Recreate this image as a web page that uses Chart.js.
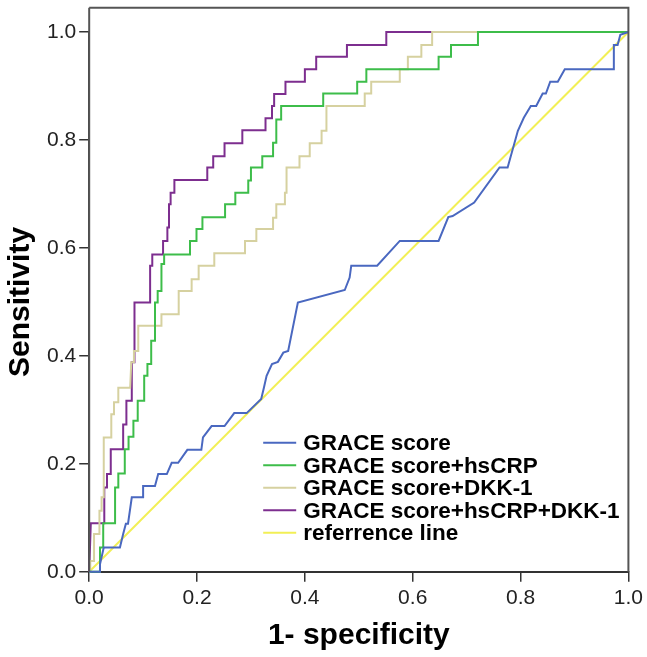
<!DOCTYPE html>
<html>
<head>
<meta charset="utf-8">
<script src="https://cdn.jsdelivr.net/npm/chart.js@4/dist/chart.umd.min.js"></script>
<style>
  body { margin: 0; background: #fff; }
  #wrap { width: 647px; height: 657px; }
</style>
</head>
<body>
<div id="wrap"><canvas id="rocChart" width="647" height="657"></canvas></div>
<script>
// ROC curves: 1 - specificity (x) vs sensitivity (y), corner points
const seriesLabels = ['GRACE score', 'GRACE score+hsCRP', 'GRACE score+DKK-1', 'GRACE score+hsCRP+DKK-1', 'referrence line'];
const axisTicks = [0, 0.2, 0.4, 0.6, 0.8, 1.0];

const graceX = [0, 0.02, 0.02, 0.027, 0.057, 0.063, 0.068, 0.072, 0.079, 0.100, 0.100, 0.122, 0.128, 0.144, 0.153, 0.165,
  0.182, 0.208, 0.211, 0.227, 0.251, 0.269, 0.292, 0.319, 0.324, 0.329, 0.339, 0.350, 0.360, 0.369, 0.387,
  0.474, 0.483, 0.486, 0.534, 0.576, 0.648, 0.666, 0.674, 0.714, 0.761, 0.776, 0.795, 0.806, 0.819, 0.829,
  0.841, 0.847, 0.855, 0.869, 0.882, 0.973, 0.973, 0.980, 0.985, 1.0];
const graceY = [0, 0, 0.014, 0.045, 0.045, 0.07, 0.089, 0.089, 0.138, 0.138, 0.159, 0.159, 0.181, 0.181, 0.202, 0.202,
  0.226, 0.226, 0.249, 0.270, 0.270, 0.294, 0.294, 0.320, 0.341, 0.363, 0.385, 0.389, 0.406, 0.409, 0.499,
  0.522, 0.545, 0.567, 0.567, 0.613, 0.613, 0.657, 0.659, 0.684, 0.749, 0.749, 0.817, 0.841, 0.863, 0.863,
  0.886, 0.886, 0.908, 0.908, 0.931, 0.931, 0.976, 0.976, 0.995, 1.0];

const crpX = [0, 0.02, 0.02, 0.026, 0.026, 0.048, 0.048, 0.054, 0.054, 0.066, 0.066, 0.073, 0.073, 0.082, 0.082, 0.09, 0.09,
  0.102, 0.102, 0.108, 0.108, 0.115, 0.115, 0.122, 0.122, 0.127, 0.127, 0.134, 0.134, 0.139, 0.139, 0.187, 0.187,
  0.199, 0.199, 0.210, 0.210, 0.252, 0.252, 0.271, 0.271, 0.295, 0.295, 0.300, 0.300, 0.321, 0.321, 0.341, 0.341,
  0.347, 0.347, 0.356, 0.356, 0.434, 0.434, 0.497, 0.497, 0.514, 0.514, 0.648, 0.648, 0.671, 0.671, 0.721, 0.721, 1.0];
const crpY = [0, 0, 0.045, 0.045, 0.09, 0.09, 0.156, 0.156, 0.182, 0.182, 0.227, 0.227, 0.25, 0.25, 0.28, 0.28, 0.317,
  0.317, 0.363, 0.363, 0.385, 0.385, 0.428, 0.428, 0.499, 0.499, 0.520, 0.520, 0.570, 0.570, 0.588, 0.588, 0.613,
  0.613, 0.635, 0.635, 0.657, 0.657, 0.681, 0.681, 0.702, 0.702, 0.725, 0.725, 0.749, 0.749, 0.770, 0.770, 0.795,
  0.795, 0.838, 0.838, 0.863, 0.863, 0.886, 0.886, 0.908, 0.908, 0.931, 0.931, 0.954, 0.954, 0.976, 0.976, 1.0, 1.0];

const dkkX = [0, 0.002, 0.002, 0.009, 0.009, 0.019, 0.019, 0.023, 0.023, 0.027, 0.027, 0.041, 0.041, 0.046, 0.046, 0.054,
  0.054, 0.076, 0.078, 0.083, 0.083, 0.091, 0.091, 0.134, 0.134, 0.166, 0.166, 0.190, 0.190, 0.203, 0.203, 0.232,
  0.232, 0.289, 0.289, 0.310, 0.310, 0.341, 0.341, 0.347, 0.347, 0.363, 0.363, 0.366, 0.366, 0.390, 0.390, 0.409,
  0.409, 0.431, 0.431, 0.440, 0.440, 0.511, 0.511, 0.523, 0.523, 0.576, 0.576, 0.591, 0.591, 0.616, 0.616, 0.636, 0.636, 1.0];
const dkkY = [0, 0, 0.02, 0.02, 0.07, 0.07, 0.113, 0.113, 0.138, 0.138, 0.249, 0.249, 0.292, 0.292, 0.314, 0.314,
  0.341, 0.341, 0.388, 0.388, 0.409, 0.409, 0.456, 0.456, 0.477, 0.477, 0.520, 0.520, 0.542, 0.542, 0.567, 0.567,
  0.590, 0.590, 0.613, 0.613, 0.635, 0.635, 0.656, 0.656, 0.681, 0.681, 0.702, 0.702, 0.749, 0.749, 0.770, 0.770,
  0.794, 0.794, 0.817, 0.817, 0.863, 0.863, 0.886, 0.886, 0.908, 0.908, 0.931, 0.931, 0.954, 0.954, 0.976, 0.976, 1.0, 1.0];

const allX = [0, 0.003, 0.028, 0.028, 0.033, 0.033, 0.04, 0.04, 0.063, 0.063, 0.069, 0.069, 0.079, 0.079, 0.084, 0.084,
  0.113, 0.113, 0.117, 0.117, 0.137, 0.137, 0.145, 0.145, 0.148, 0.148, 0.151, 0.151, 0.158, 0.158, 0.219, 0.219,
  0.230, 0.230, 0.251, 0.251, 0.284, 0.284, 0.327, 0.327, 0.339, 0.339, 0.343, 0.343, 0.364, 0.364, 0.400, 0.400,
  0.421, 0.421, 0.478, 0.478, 0.551, 0.551, 1.0];
const allY = [0, 0.09, 0.09, 0.156, 0.156, 0.181, 0.181, 0.227, 0.227, 0.273, 0.273, 0.317, 0.317, 0.388, 0.388, 0.499,
  0.499, 0.567, 0.567, 0.588, 0.588, 0.613, 0.613, 0.638, 0.638, 0.681, 0.681, 0.702, 0.702, 0.726, 0.726, 0.749,
  0.749, 0.770, 0.770, 0.794, 0.794, 0.818, 0.818, 0.840, 0.840, 0.863, 0.863, 0.885, 0.885, 0.908, 0.908, 0.931,
  0.931, 0.954, 0.954, 0.976, 0.976, 1.0, 1.0];

const refX = [0, 1];
const refY = [0, 1];

const colors = ['#4a68c0', '#3dbd4a', '#d6d1a0', '#7d2e8f', '#f2ef55'];

function toPoints(xs, ys) {
  return xs.map((x, i) => ({ x: x, y: ys[i] }));
}

// legend drawn inside the plot, lower right (like the SPSS output)
const insideLegend = {
  id: 'insideLegend',
  afterDatasetsDraw(chart) {
    const ctx = chart.ctx;
    const area = chart.chartArea;
    ctx.save();
    ctx.font = 'bold 22.5px "Liberation Sans", Arial, sans-serif';
    ctx.textBaseline = 'middle';
    ctx.fillStyle = '#000';
    chart.data.datasets.forEach((ds, i) => {
      const y = area.bottom - 129 + i * 22.5;
      ctx.strokeStyle = ds.borderColor;
      ctx.lineWidth = 2;
      ctx.beginPath();
      ctx.moveTo(area.left + 174, y);
      ctx.lineTo(area.left + 207, y);
      ctx.stroke();
      ctx.fillText(ds.label, area.left + 214, y + 1);
    });
    ctx.restore();
  }
};

// box round the plot, a bit above 1.0
const frameBox = {
  id: 'frameBox',
  afterDraw(chart) {
    const ctx = chart.ctx;
    const area = chart.chartArea;
    const top = chart.scales.y.getPixelForValue(1.045);
    ctx.save();
    ctx.strokeStyle = '#555';
    ctx.lineWidth = 2;
    ctx.beginPath();
    ctx.moveTo(area.left, top);
    ctx.lineTo(area.right, top);
    ctx.lineTo(area.right, area.bottom);
    ctx.moveTo(area.left, area.bottom);
    ctx.lineTo(area.left, top);
    ctx.stroke();
    ctx.restore();
  }
};

document.addEventListener('DOMContentLoaded', function () {
  const ctx = document.getElementById('rocChart').getContext('2d');
  const xsList = [graceX, crpX, dkkX, allX, refX];
  const ysList = [graceY, crpY, dkkY, allY, refY];
  new Chart(ctx, {
    type: 'scatter',
    data: {
      datasets: seriesLabels.map((label, i) => ({
        label: label,
        data: toPoints(xsList[i], ysList[i]),
        showLine: true,
        borderColor: colors[i],
        backgroundColor: colors[i],
        borderWidth: 2,
        pointRadius: 0,
        tension: 0,
        clip: 4
      }))
    },
    options: {
      responsive: false,
      animation: false,
      layout: { padding: { top: 32, right: 5, left: 0, bottom: 0 } },
      plugins: {
        legend: { display: false },
        tooltip: { enabled: false }
      },
      scales: {
        x: {
          type: 'linear',
          min: 0,
          max: 1,
          afterBuildTicks: function (scale) {
            scale.ticks = axisTicks.map(v => ({ value: v }));
          },
          grid: { drawOnChartArea: false, tickLength: 10, color: '#333', lineWidth: 1.5 },
          border: { color: '#333', width: 2 },
          ticks: {
            padding: 4,
            color: '#222',
            font: { family: '"Liberation Sans", Arial, sans-serif', size: 21 },
            callback: v => v.toFixed(1)
          },
          title: {
            display: true,
            text: '1- specificity',
            color: '#000',
            font: { family: '"Liberation Sans", Arial, sans-serif', size: 30, weight: 'bold' },
            padding: { top: 3, bottom: 3 }
          }
        },
        y: {
          type: 'linear',
          min: 0,
          max: 1,
          afterBuildTicks: function (scale) {
            scale.ticks = axisTicks.map(v => ({ value: v }));
          },
          grid: { drawOnChartArea: false, tickLength: 10, color: '#333', lineWidth: 1.5 },
          border: { color: '#333', width: 2 },
          ticks: {
            padding: 3,
            color: '#222',
            font: { family: '"Liberation Sans", Arial, sans-serif', size: 21 },
            callback: v => v.toFixed(1)
          },
          title: {
            display: true,
            text: 'Sensitivity',
            color: '#000',
            font: { family: '"Liberation Sans", Arial, sans-serif', size: 30, weight: 'bold' },
            padding: { top: 3, bottom: 5 }
          }
        }
      }
    },
    plugins: [insideLegend, frameBox]
  });
});
</script>
</body>
</html>
